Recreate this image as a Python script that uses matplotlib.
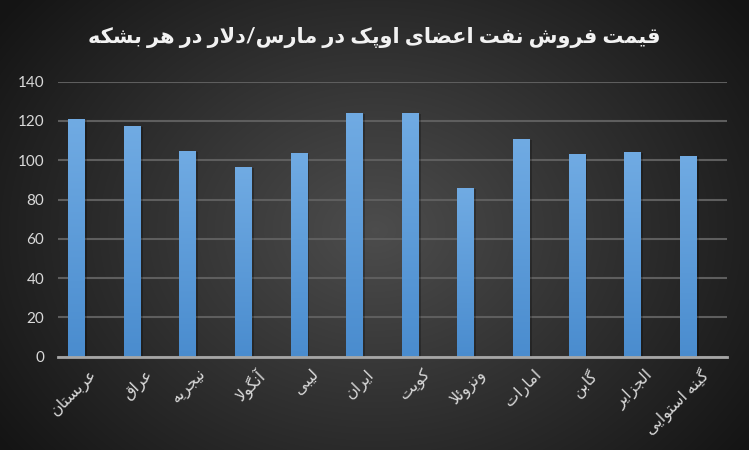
import numpy as np
import matplotlib
matplotlib.use("Agg")
import matplotlib.pyplot as plt
import matplotlib.patheffects as pe
from matplotlib.transforms import ScaledTranslation

# data
countries = ["عربستان", "عراق", "نیجریه", "آنگولا", "لیبی", "ایران",
             "کویت", "ونزوئلا", "امارات", "گابن", "الجزایر", "گینه استوایی"]
prices = [121.0, 117.4, 104.7, 96.6, 103.7, 124.1,
          124.1, 85.9, 110.8, 103.2, 104.2, 102.2]
yticks = [0, 20, 40, 60, 80, 100, 120, 140]
title = "قیمت فروش نفت اعضای اوپک در مارس/دلار در هر بشکه"

# arabic presentation forms: isolated, final, initial, medial
FORMS = {
    'ا': ('\uFE8D', '\uFE8E', None, None),
    'آ': ('\uFE81', '\uFE82', None, None),
    'ب': ('\uFE8F', '\uFE90', '\uFE91', '\uFE92'),
    'پ': ('\uFB56', '\uFB57', '\uFB58', '\uFB59'),
    'ت': ('\uFE95', '\uFE96', '\uFE97', '\uFE98'),
    'ج': ('\uFE9D', '\uFE9E', '\uFE9F', '\uFEA0'),
    'د': ('\uFEA9', '\uFEAA', None, None),
    'ر': ('\uFEAD', '\uFEAE', None, None),
    'ز': ('\uFEAF', '\uFEB0', None, None),
    'س': ('\uFEB1', '\uFEB2', '\uFEB3', '\uFEB4'),
    'ش': ('\uFEB5', '\uFEB6', '\uFEB7', '\uFEB8'),
    'ض': ('\uFEBD', '\uFEBE', '\uFEBF', '\uFEC0'),
    'ع': ('\uFEC9', '\uFECA', '\uFECB', '\uFECC'),
    'ف': ('\uFED1', '\uFED2', '\uFED3', '\uFED4'),
    'ق': ('\uFED5', '\uFED6', '\uFED7', '\uFED8'),
    'ک': ('\uFB8E', '\uFB8F', '\uFB90', '\uFB91'),
    'گ': ('\uFB92', '\uFB93', '\uFB94', '\uFB95'),
    'ل': ('\uFEDD', '\uFEDE', '\uFEDF', '\uFEE0'),
    'م': ('\uFEE1', '\uFEE2', '\uFEE3', '\uFEE4'),
    'ن': ('\uFEE5', '\uFEE6', '\uFEE7', '\uFEE8'),
    'ه': ('\uFEE9', '\uFEEA', '\uFEEB', '\uFEEC'),
    'و': ('\uFEED', '\uFEEE', None, None),
    'ی': ('\uFBFC', '\uFBFD', '\uFBFE', '\uFBFF'),
    'ئ': ('\uFE89', '\uFE8A', '\uFE8B', '\uFE8C'),
}


def joins_next(c):
    return c in FORMS and FORMS[c][2] is not None


def shape(s):
    out = []
    i = 0
    n = len(s)
    while i < n:
        c = s[i]
        if c not in FORMS:
            out.append(c)
            i += 1
            continue
        prev = s[i - 1] if i > 0 else ''
        cp = joins_next(prev)
        if c == 'ل' and i + 1 < n and s[i + 1] == 'ا':
            out.append('\uFEFC' if cp else '\uFEFB')
            i += 2
            continue
        nxt = s[i + 1] if i + 1 < n else ''
        cn = joins_next(c) and nxt in FORMS
        iso, fin, ini, med = FORMS[c]
        if cp and cn:
            out.append(med)
        elif cp:
            out.append(fin)
        elif cn:
            out.append(ini)
        else:
            out.append(iso)
        i += 1
    return ''.join(reversed(out))


plt.rcParams['font.family'] = ['Lato', 'DejaVu Sans']

fig = plt.figure(figsize=(7.49, 4.5), dpi=100)

# radial background
bg = fig.add_axes([0, 0, 1, 1], zorder=-10)
yy, xx = np.mgrid[0:450, 0:749]
r = np.sqrt(((xx - 375) / 420.0) ** 2 + ((yy - 230) / 330.0) ** 2)
g = np.clip(0.30 - 0.20 * r, 0.08, 0.30)
bg.imshow(np.dstack([g, g, g]), aspect='auto', extent=[0, 1, 0, 1])
bg.axis('off')

ax = fig.add_axes([58 / 749, 93.3 / 450, 669 / 749, 275 / 450])
ax.set_facecolor('none')

x = np.arange(len(countries))
bars = ax.bar(x, prices, width=0.3, color='#5b9bd5', zorder=3,
              path_effects=[pe.SimplePatchShadow(offset=(1.5, -0.5), shadow_rgbFace='black', alpha=0.25),
                            pe.Normal()])

grad = np.linspace(0, 1, 100).reshape(-1, 1)
top = np.array([0.44, 0.67, 0.89])
bot = np.array([0.29, 0.55, 0.81])
img = top * (1 - grad[..., None]) + bot * grad[..., None]
for b in bars:
    im = ax.imshow(img, aspect='auto', zorder=4,
                   extent=[b.get_x(), b.get_x() + b.get_width(), 0, b.get_height()])
    im.set_clip_path(b)

ax.set_xlim(-0.333, 11.70)
ax.set_ylim(0, 140)
ax.set_yticks(yticks)
ax.yaxis.grid(True, color='#5e5e5e', linewidth=1.5, zorder=0)
ax.set_axisbelow(True)
for side in ['top', 'right', 'left']:
    ax.spines[side].set_visible(False)
ax.spines['bottom'].set_color('#a6a6a6')
ax.spines['bottom'].set_linewidth(2)
ax.spines['bottom'].set_zorder(5)

ax.tick_params(axis='y', length=0, pad=10, labelsize=11, labelcolor='#d9d9d9')
ax.tick_params(axis='x', length=0, pad=7, labelsize=11.5, labelcolor='#d9d9d9')
ax.set_xticks(x)
ax.set_xticklabels([shape(c) for c in countries], rotation=45, ha='right',
                   va='top', rotation_mode='anchor')
off = ScaledTranslation(12 / 100, 0, fig.dpi_scale_trans)
for lab in ax.get_xticklabels():
    lab.set_transform(lab.get_transform() + off)

fig.text(0.5, 1 - 38 / 450, shape(title), ha='center', va='center',
         fontsize=15, fontweight='bold', color='#f2f2f2')

fig.savefig('out.png', dpi=100)
